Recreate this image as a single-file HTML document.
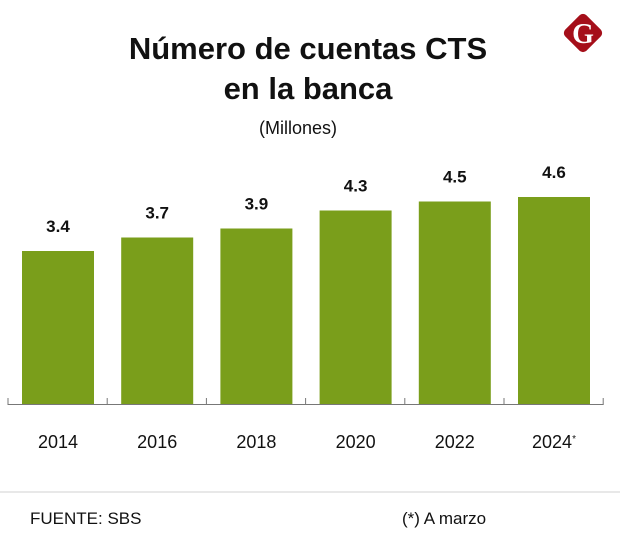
<!DOCTYPE html>
<html><head><meta charset="utf-8"><style>
body{margin:0;background:#fff;font-family:"Liberation Sans",sans-serif}
#c{position:relative;width:620px;height:553px;overflow:hidden}
</style></head><body>
<div id="c">
<svg width="620" height="553">
<text x="308" y="59" text-anchor="middle" font-size="31" font-weight="bold" fill="#111">Número de cuentas CTS</text>
<text x="308" y="99" text-anchor="middle" font-size="31" font-weight="bold" fill="#111">en la banca</text>
<text x="298" y="134" text-anchor="middle" font-size="18" fill="#111">(Millones)</text>
<g>
<rect x="568" y="18" width="30" height="30" rx="5" fill="#a50f1a" transform="rotate(45 583 33)"/>
<text x="583" y="43" text-anchor="middle" font-size="28" font-weight="bold" font-family="Liberation Serif,serif" fill="#fff">G</text>
</g>
<g id="bars"></g>
<line x1="584" y1="492" x2="620" y2="492" stroke="#ccc"/>
<line x1="0" y1="492" x2="620" y2="492" stroke="#d0d0d0"/>
<text x="30" y="524" font-size="17" fill="#111">FUENTE: SBS</text>
<text x="402" y="524" font-size="17" fill="#111">(*) A marzo</text>
</svg>
</div>
<script>
const categories=["2014","2016","2018","2020","2022","2024"];
const values=[3.4,3.7,3.9,4.3,4.5,4.6];
const labels=["3.4","3.7","3.9","4.3","4.5","4.6"];
const ns="http://www.w3.org/2000/svg";
const g=document.getElementById("bars");
const x0=8,pitch=99.2,baseY=404,scale=45;
const xs=i=>x0+i*pitch;
const ys=v=>baseY-v*scale;
function mk(t,a){const e=document.createElementNS(ns,t);for(const k in a)e.setAttribute(k,a[k]);g.appendChild(e);return e;}
categories.forEach((c,i)=>{
 const b=mk("rect",{x:xs(i)+14,y:ys(values[i]),width:72,height:baseY-ys(values[i]),fill:"#7a9e1b"});
 
 
 const v=mk("text",{x:xs(i)+50,y:ys(values[i])-19,"text-anchor":"middle","font-size":"17","font-weight":"bold",fill:"#111"});
 v.textContent=labels[i];
 
 
 const t=mk("text",{x:xs(i)+50,y:448,"text-anchor":"middle","font-size":"18",fill:"#111"});
 t.textContent=c;
 if(i===categories.length-1){const s=document.createElementNS(ns,"tspan");s.setAttribute("font-size","10");s.setAttribute("dy","-6");s.textContent="*";t.appendChild(s);}
 
 
});
for(let i=0;i<=categories.length;i++){
 const tk=mk("line",{x1:xs(i),y1:baseY-6,x2:xs(i),y2:baseY+1,stroke:"#777"});
 
 
}
const ax=mk("line",{x1:xs(0),y1:baseY+0.5,x2:xs(categories.length),y2:baseY+0.5,stroke:"#777"});


</script>
</body></html>
